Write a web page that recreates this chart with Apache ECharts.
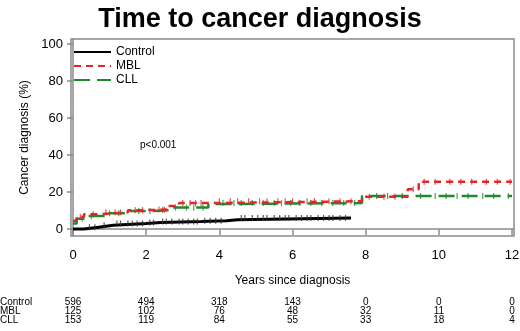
<!DOCTYPE html>
<html>
<head>
<meta charset="utf-8">
<script src="https://cdn.jsdelivr.net/npm/echarts@6/dist/echarts.min.js"></script>
<style>
  html, body { margin: 0; padding: 0; background: #fff; }
  #chart { width: 520px; height: 331px; }
</style>
</head>
<body>
<div id="chart"></div>
<script>
// tick positions on the x axis (years) and y axis (%)
const yearTicks = [0, 2, 4, 6, 8, 10, 12]
const pctTicks = [0, 20, 40, 60, 80, 100]

// step curves: time (years) and cumulative incidence (%)
const controlTime = [0, 0.3, 0.7, 1.1, 2.0, 2.4, 3.5, 4.2, 4.5, 7.6]
const controlPct = [0, 1.0, 2.0, 3.0, 3.5, 4.0, 4.5, 5.0, 6.0, 6.0]
const mblTime = [0, 0.1, 0.3, 0.7, 1.5, 2.0, 2.6, 2.9, 3.7, 7.9, 9.15, 9.45, 12.0]
const mblPct = [4.5, 6.5, 8.0, 9.0, 10.2, 10.5, 12.5, 14.0, 15.0, 17.5, 21.5, 25.6, 25.6]
const cllTime = [0, 0.1, 0.3, 0.9, 1.5, 2.2, 2.7, 3.7, 3.9, 7.9, 12.0]
const cllPct = [3.0, 5.5, 7.0, 8.5, 9.7, 10.3, 11.6, 13.5, 14.0, 17.8, 17.8]

// censoring times
const controlCensor = [0.45, 0.6, 0.85, 1.2, 1.3, 1.5, 1.62, 1.75, 1.9, 2.1, 2.2, 2.45, 2.55, 2.7, 2.9, 3.0, 3.15, 3.3, 3.4, 3.6, 3.75, 3.9, 4.05, 4.6, 4.7, 4.9, 5.05, 5.2, 5.3, 5.5, 5.65, 5.8, 5.9, 6.1, 6.25, 6.4, 6.5, 6.7, 6.85, 7.0, 7.1, 7.3, 7.45]
const mblCensor = [0.2, 0.55, 0.9, 1.15, 1.3, 1.7, 1.9, 2.35, 2.5, 3.0, 3.2, 3.35, 3.5, 4.0, 4.3, 4.5, 4.8, 5.1, 5.3, 5.6, 5.8, 6.0, 6.4, 6.6, 7.0, 7.3, 7.6, 8.1, 8.5, 8.8, 9.3, 9.6, 9.9, 10.3, 10.6, 10.9, 11.3, 11.6, 11.95]
const cllCensor = [0.25, 0.5, 1.0, 1.25, 1.8, 2.1, 2.45, 2.8, 3.1, 3.3, 3.55, 4.1, 4.4, 4.6, 4.9, 5.2, 5.5, 5.7, 5.95, 6.2, 6.5, 6.8, 7.1, 7.4, 7.7, 8.3, 8.6, 9.0, 9.5, 9.9, 10.2, 10.5, 10.8, 11.2, 11.5, 11.9]

// number at risk
const controlRisk = [596, 494, 318, 143, 0, 0, 0]
const mblRisk = [125, 102, 76, 48, 32, 11, 0]
const cllRisk = [153, 119, 84, 55, 33, 18, 4]

const chart = echarts.init(document.getElementById('chart'))

// value of a step curve at time t
function stepValue(times, pcts, t) {
  let v = pcts[0]
  for (let i = 0; i < times.length; i++) {
    if (times[i] <= t) v = pcts[i]
  }
  return v
}

const pairs = (xs, ys) => xs.map((x, i) => [x, ys[i]])
const marks = (cs, xs, ys) => cs.map((t) => [t, stepValue(xs, ys, t)])

const font = 'Liberation Sans, Arial, sans-serif'
const gray = '#8a8a8a'
const red = '#e3262b'
const green = '#1f8a2e'

// extra x axes used only to write the at-risk rows
function riskAxis(name, values, offset) {
  return {
    type: 'value',
    position: 'bottom',
    min: -0.055,
    max: 12.055,
    offset: offset,
    name: name,
    nameLocation: 'start',
    nameGap: 71,
    nameTextStyle: { align: 'left', verticalAlign: 'middle', fontSize: 10, color: '#000', fontFamily: font },
    axisLine: { show: false },
    axisTick: { show: false },
    splitLine: { show: false },
    axisLabel: {
      customValues: yearTicks,
      margin: 0,
      verticalAlign: 'middle',
      fontSize: 10,
      color: '#000',
      fontFamily: font,
      formatter: (v) => {
        const i = yearTicks.indexOf(Math.round(v))
        return i < 0 ? '' : String(values[i])
      },
    },
  }
}

const option = {
  animation: false,
  title: {
    text: 'Time to cancer diagnosis',
    left: 'center',
    top: 1,
    textStyle: { fontSize: 27, fontWeight: 'bold', color: '#000', fontFamily: font },
  },
  legend: {
    orient: 'vertical',
    left: 73,
    top: 46,
    padding: 0,
    itemWidth: 37,
    itemHeight: 10,
    itemGap: 2,
    itemStyle: { opacity: 0 },
    textStyle: { fontSize: 12, color: '#000', fontFamily: font },
    data: ['Control', 'MBL', 'CLL'],
  },
  grid: {
    left: 71,
    right: 6,
    top: 39,
    bottom: 95,
    containLabel: false,
    outerBoundsMode: 'none',
    show: true,
    borderColor: gray,
    borderWidth: 1.5,
  },
  graphic: [
    {
      type: 'text',
      left: 140,
      top: 140,
      style: { text: 'p<0.001', fontSize: 10, fill: '#000', fontFamily: font },
    },
  ],
  xAxis: [
    {
      type: 'value',
      min: -0.055,
      max: 12.055,
      name: 'Years since diagnosis',
      nameLocation: 'middle',
      nameGap: 39,
      nameTextStyle: { fontSize: 12, color: '#000', fontFamily: font },
      axisLine: { show: true, lineStyle: { color: gray, width: 1.5 } },
      axisTick: { show: true, customValues: yearTicks, length: 6, lineStyle: { color: gray, width: 1.5 } },
      axisLabel: { customValues: yearTicks, margin: 13, fontSize: 13, color: '#000', fontFamily: font },
      splitLine: { show: false },
    },
    riskAxis('Control', controlRisk, 66),
    riskAxis('MBL', mblRisk, 75),
    riskAxis('CLL', cllRisk, 84),
  ],
  yAxis: {
    type: 'value',
    min: -3.78,
    max: 102.7,
    name: 'Cancer diagnosis (%)',
    nameLocation: 'middle',
    nameGap: 37,
    nameTextStyle: { fontSize: 12, color: '#000', fontFamily: font },
    axisLine: { show: true, lineStyle: { color: gray, width: 1.5 } },
    axisTick: { show: true, customValues: pctTicks, length: 6, lineStyle: { color: gray, width: 1.5 } },
    axisLabel: { customValues: pctTicks, margin: 8, fontSize: 13, color: '#000', fontFamily: font },
    splitLine: { show: false },
  },
  series: [
    {
      name: 'CLL',
      type: 'line',
      step: 'end',
      symbol: 'none',
      data: pairs(cllTime, cllPct),
      lineStyle: { color: green, width: 2.5, type: [16, 7] },
      itemStyle: { color: green },
      z: 2,
    },
    {
      name: 'MBL',
      type: 'line',
      step: 'end',
      symbol: 'none',
      data: pairs(mblTime, mblPct),
      lineStyle: { color: red, width: 2.5, type: [7, 5] },
      itemStyle: { color: red },
      z: 3,
    },
    {
      name: 'Control',
      type: 'line',
      step: 'end',
      symbol: 'none',
      data: pairs(controlTime, controlPct),
      lineStyle: { color: '#000', width: 3 },
      itemStyle: { color: '#000' },
      z: 4,
    },
    {
      type: 'scatter',
      symbol: 'rect',
      symbolSize: [1.2, 6],
      data: marks(cllCensor, cllTime, cllPct),
      itemStyle: { color: green },
      silent: true,
      z: 2,
    },
    {
      type: 'scatter',
      symbol: 'rect',
      symbolSize: [1.2, 6],
      data: marks(mblCensor, mblTime, mblPct),
      itemStyle: { color: red },
      silent: true,
      z: 3,
    },
    {
      type: 'scatter',
      symbol: 'rect',
      symbolSize: [1.2, 6],
      data: marks(controlCensor, controlTime, controlPct),
      itemStyle: { color: '#333' },
      silent: true,
      z: 4,
    },
  ],
}

chart.setOption(option)
</script>
</body>
</html>
